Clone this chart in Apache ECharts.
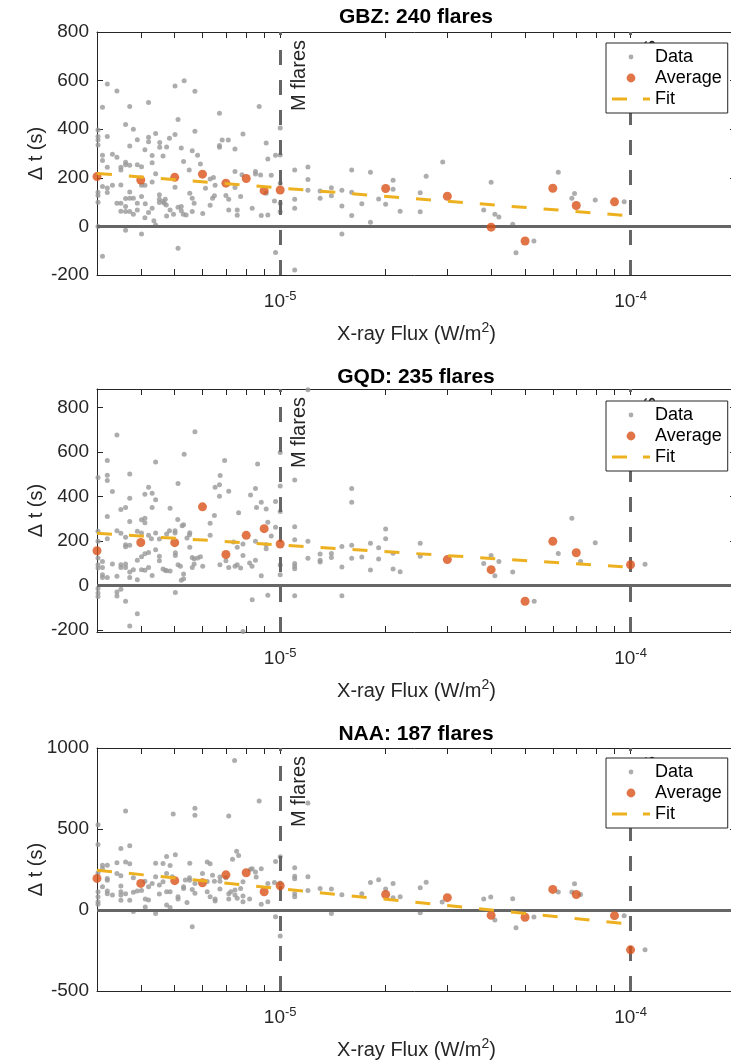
<!DOCTYPE html>
<html><head><meta charset="utf-8">
<script src="https://cdn.jsdelivr.net/npm/echarts@6/dist/echarts.min.js"></script>
<style>html,body{margin:0;padding:0;background:#fff}#c{width:731px;height:1064px}</style>
</head><body><div id="c"></div>
<script>
// ---------------- data ----------------
const panelTitles = ['GBZ: 240 flares', 'GQD: 235 flares', 'NAA: 187 flares'];
const markerNames = ['M flares', 'X flares'];
const markerFlux = [1e-5, 1e-4];
const fluxTicks = [3e-6,4e-6,5e-6,6e-6,7e-6,8e-6,9e-6,1e-5,2e-5,3e-5,4e-5,5e-5,6e-5,7e-5,8e-5,9e-5,1e-4,2e-4];
const fluxLabels = [1e-5, 1e-4];
const fluxRange = [3e-6, 2e-4];
const yRanges = [[-200, 800], [-208, 883], [-500, 1000]];
const yTicks = [[-200,0,200,400,600,800], [-200,0,200,400,600,800], [-500,0,500,1000]];

const gbzData = [
[3.21e-6,586],[3.42e-6,557],[3.11e-6,490],[5.01e-6,578],[5.32e-6,599],[5.71e-6,556],[4.21e-6,510],[3.72e-6,493],[5.11e-6,440],[8.71e-6,493],[6.71e-6,466],
[3.02e-6,397],[3.02e-6,370],[3.02e-6,356],[3.02e-6,335],[3.21e-6,370],[3.62e-6,419],[3.81e-6,400],[3.91e-6,357],[4.21e-6,367],[4.21e-6,348],[4.41e-6,382],[4.83e-6,363],[4.53e-6,345],[4.53e-6,326],[3.72e-6,331],[4.11e-6,315],[4.74e-6,327],[5.01e-6,378],[5.22e-6,323],[5.71e-6,392],[5.61e-6,311],[5.81e-6,293],[5.92e-6,257],[6.71e-6,333],[6.71e-6,326],[6.83e-6,356],[7.11e-6,356],[7.43e-6,319],[7.83e-6,380],[9.12e-6,343],[9.22e-6,277],[9.70e-6,293],[1.0e-5,405],[1.0e-5,294],
[3.11e-6,293],[3.11e-6,271],[3.32e-6,297],[3.42e-6,285],[3.21e-6,243],[3.62e-6,264],[3.62e-6,254],[3.72e-6,252],[3.51e-6,243],[3.51e-6,232],[3.91e-6,254],[4.02e-6,245],[4.31e-6,292],[4.31e-6,262],[4.41e-6,217],[4.63e-6,290],[5.30e-6,267],[5.50e-6,232],[6.31e-6,195],[6.45e-6,201],[6.52e-6,169],[7.43e-6,226],[7.78e-6,213],[8.50e-6,226],[8.50e-6,216],[8.79e-6,212],[9.43e-6,210],
[3.02e-6,141],[3.02e-6,127],[3.02e-6,99],[3.11e-6,164],[3.21e-6,158],[3.21e-6,139],[3.32e-6,169],[3.42e-6,95],[3.51e-6,170],[3.51e-6,95],[3.51e-6,62],[3.62e-6,115],[3.62e-6,82],[3.62e-6,61],[3.72e-6,142],[3.72e-6,116],[3.72e-6,61],[3.81e-6,116],[3.81e-6,50],[3.91e-6,95],[3.91e-6,68],[4.02e-6,169],[4.02e-6,123],[4.11e-6,169],[4.11e-6,36],[4.21e-6,57],[4.12e-6,93],[4.31e-6,183],[4.31e-6,75],[4.36e-6,23],[4.52e-6,130],[4.52e-6,112],[4.52e-6,98],[4.63e-6,102],[4.67e-6,95],[4.73e-6,88],[4.70e-6,112],[4.85e-6,67],[4.74e-6,43],[4.96e-6,50],[5.01e-6,161],[5.11e-6,79],[5.22e-6,82],[5.22e-6,64],[5.29e-6,50],[5.39e-6,47],[5.52e-6,136],[5.61e-6,61],[5.61e-6,116],[5.68e-6,95],[6.01e-6,53],[6.12e-6,157],[6.31e-6,87],[6.41e-6,116],[6.49e-6,126],[7.00e-6,127],[7.13e-6,112],[7.13e-6,68],[7.43e-6,160],[7.54e-6,68],[7.54e-6,46],[7.71e-6,123],[8.32e-6,75],[8.83e-6,45],[9.12e-6,136],[9.22e-6,47],[9.63e-6,105],[1.0e-5,178],[1.0e-5,95],[1.0e-5,60],
[3.62e-6,-16],[4.02e-6,-31],[3.11e-6,-123],[5.11e-6,-90],[9.70e-6,-107],[4.41e-6,6],[3.02e-6,0],
[1.10e-5,232],[1.10e-5,112],[1.10e-5,75],[1.10e-5,-179],[1.20e-5,244],[1.20e-5,193],[1.20e-5,149],[1.30e-5,146],[1.30e-5,116],[1.40e-5,159],[1.40e-5,126],[1.50e-5,149],[1.50e-5,84],[1.50e-5,-31],[1.60e-5,232],[1.60e-5,141],[1.60e-5,45],[1.71e-5,93],[1.81e-5,223],[1.81e-5,17],[1.91e-5,113],[2.00e-5,91],[2.10e-5,190],[2.10e-5,153],[2.20e-5,62],[2.51e-5,138],[2.51e-5,60],[2.61e-5,206],[2.91e-5,265],[3.81e-5,68],[4.00e-5,182],[4.10e-5,50],[4.21e-5,39],[4.61e-5,9],[4.71e-5,-108],[5.30e-5,-60],[6.22e-5,223],[6.80e-5,116],[6.92e-5,135],[7.93e-5,109],[9.59e-5,101]
];
const gbzAvg = [[3e-6,205],[4e-6,191],[5e-6,202],[6e-6,215],[7e-6,178],[8e-6,197],[9e-6,147],[1e-5,150],[2e-5,156],[3e-5,124],[4e-5,-3],[5e-5,-60],[6e-5,157],[7e-5,86],[9e-5,101]];
const gbzFit = [[3e-6,218],[9.5e-5,46]];

const gqdData = [
[3.42e-6,677],[5.71e-6,691],[3.21e-6,562],[3.02e-6,486],[3.21e-6,496],[3.21e-6,472],[3.32e-6,423],[3.72e-6,501],[4.41e-6,555],[5.32e-6,590],[5.11e-6,459],[6.94e-6,562],[6.74e-6,495],[8.62e-6,546],[6.52e-6,442],[6.71e-6,453],[6.71e-6,402],[7.13e-6,424],[8.50e-6,436],[8.23e-6,407],[8.83e-6,375],[4.21e-6,442],[4.31e-6,415],[4.11e-6,411],[4.41e-6,386],[3.72e-6,392],[3.51e-6,342],[3.62e-6,351],[3.21e-6,311],[3.72e-6,288],[4.02e-6,296],[4.11e-6,303],[4.11e-6,282],[4.31e-6,351],[4.85e-6,348],[5.10e-6,297],[5.25e-6,269],[5.30e-6,274],[5.52e-6,238],[6.31e-6,280],[6.49e-6,315],[7.61e-6,327],[8.56e-6,351],[9.12e-6,344],[9.22e-6,285],[9.70e-6,378],[9.70e-6,262],[1.0e-5,598],[1.0e-5,448],[1.0e-5,333],[1.0e-5,93],[1.0e-5,49],
[3.02e-6,244],[3.02e-6,199],[3.21e-6,211],[3.42e-6,247],[3.51e-6,235],[3.62e-6,217],[3.62e-6,184],[3.62e-6,175],[3.72e-6,181],[3.91e-6,244],[4.02e-6,236],[4.21e-6,226],[4.29e-6,211],[4.41e-6,236],[4.52e-6,209],[4.74e-6,232],[4.83e-6,247],[5.01e-6,247],[5.01e-6,236],[5.42e-6,214],[5.51e-6,229],[5.52e-6,173],[6.31e-6,226],[7.36e-6,196],[7.54e-6,173],[7.83e-6,187],[8.50e-6,199],[9.12e-6,184],[9.43e-6,223],[9.12e-6,166],
[3.02e-6,124],[3.02e-6,94],[3.02e-6,79],[3.11e-6,109],[3.11e-6,82],[3.11e-6,49],[3.11e-6,37],[3.21e-6,37],[3.32e-6,97],[3.42e-6,42],[3.51e-6,94],[3.51e-6,82],[3.62e-6,97],[3.62e-6,82],[3.72e-6,61],[3.72e-6,37],[3.81e-6,72],[3.91e-6,114],[3.91e-6,27],[4.02e-6,130],[4.02e-6,72],[4.11e-6,143],[4.11e-6,69],[4.21e-6,149],[4.21e-6,82],[4.31e-6,46],[4.41e-6,161],[4.52e-6,132],[4.52e-6,112],[4.63e-6,75],[4.70e-6,69],[4.74e-6,67],[4.85e-6,66],[5.02e-6,148],[5.02e-6,135],[5.11e-6,94],[5.19e-6,87],[5.30e-6,52],[5.22e-6,24],[5.30e-6,31],[5.61e-6,127],[5.68e-6,121],[5.81e-6,124],[5.61e-6,82],[5.68e-6,97],[5.92e-6,130],[6.01e-6,87],[6.73e-6,94],[7.00e-6,112],[7.13e-6,82],[7.43e-6,87],[7.54e-6,94],[7.71e-6,79],[7.83e-6,135],[8.18e-6,102],[8.31e-6,87],[8.50e-6,114],[8.83e-6,45],
[3.02e-6,-13],[3.02e-6,-33],[3.02e-6,-49],[3.42e-6,-28],[3.42e-6,-46],[3.51e-6,-16],[3.62e-6,-70],[3.72e-6,-181],[3.91e-6,-126],[5.02e-6,-31],[7.83e-6,-206],[8.32e-6,-63],[9.22e-6,-43],
[1.20e-5,880],[1.10e-5,474],[1.10e-5,265],[1.10e-5,206],[1.10e-5,99],[1.10e-5,87],[1.10e-5,76],[1.10e-5,-45],[1.60e-5,436],[1.60e-5,374],[1.60e-5,182],[1.60e-5,123],[1.20e-5,200],[1.20e-5,123],[1.30e-5,142],[1.30e-5,114],[1.30e-5,106],[1.40e-5,145],[1.40e-5,127],[1.50e-5,176],[1.50e-5,84],[1.50e-5,-45],[1.71e-5,129],[1.81e-5,191],[1.81e-5,70],[1.91e-5,170],[1.91e-5,120],[2.00e-5,254],[2.00e-5,211],[2.10e-5,146],[2.10e-5,75],[2.20e-5,63],[2.51e-5,191],[2.51e-5,132],[3.81e-5,99],[4.00e-5,136],[4.10e-5,45],[4.21e-5,109],[4.61e-5,61],[5.31e-5,-70],[6.22e-5,145],[6.80e-5,303],[7.20e-5,108],[7.93e-5,193],[1.10e-4,96]
];
const gqdAvg = [[3e-6,157],[4e-6,194],[5e-6,193],[6e-6,354],[7e-6,140],[8e-6,226],[9e-6,256],[1e-5,187],[3e-5,117],[4e-5,72],[5e-5,-70],[6e-5,199],[7e-5,148],[1e-4,94]];
const gqdFit = [[3e-6,235],[9.5e-5,85]];

const naaData = [
[7.41e-6,923],[8.71e-6,673],[3.62e-6,611],[5.71e-6,628],[5.71e-6,585],[4.95e-6,593],[7.13e-6,581],[3.02e-6,527],[3.02e-6,404],[3.51e-6,380],[3.72e-6,396],[7.51e-6,363],[7.61e-6,336],[4.74e-6,330],[5.02e-6,341],[4.85e-6,275],[7.31e-6,314],[3.42e-6,291],[3.62e-6,297],[3.72e-6,285],[3.21e-6,277],[3.11e-6,277],[4.41e-6,289],[4.63e-6,287],[5.52e-6,289],[6.19e-6,297],[6.31e-6,285],[9.70e-6,300],[8.32e-6,254],[8.83e-6,254],[8.50e-6,234],[1.0e-5,328],[1.0e-5,166],[1.0e-5,-160],
[3.02e-6,230],[3.11e-6,256],[3.42e-6,226],[3.51e-6,211],[3.21e-6,195],[3.21e-6,183],[3.81e-6,199],[4.11e-6,178],[4.21e-6,144],[4.31e-6,164],[4.41e-6,205],[4.52e-6,154],[4.63e-6,174],[4.74e-6,226],[4.92e-6,205],[5.30e-6,133],[5.36e-6,185],[5.51e-6,199],[5.51e-6,183],[5.71e-6,164],[6.00e-6,226],[6.19e-6,176],[6.41e-6,215],[6.49e-6,178],[6.73e-6,203],[6.73e-6,178],[7.00e-6,199],[7.83e-6,174],[8.23e-6,252],[8.54e-6,203],[9.22e-6,164],[9.63e-6,170],
[3.02e-6,113],[3.02e-6,82],[3.02e-6,51],[3.02e-6,35],[3.11e-6,144],[3.21e-6,117],[3.21e-6,100],[3.32e-6,92],[3.51e-6,148],[3.51e-6,113],[3.51e-6,92],[3.51e-6,60],[3.62e-6,100],[3.72e-6,60],[3.81e-6,109],[3.91e-6,117],[4.02e-6,121],[4.12e-6,68],[4.21e-6,62],[4.12e-6,18],[4.41e-6,-21],[4.52e-6,98],[4.74e-6,113],[4.85e-6,113],[4.74e-6,31],[4.85e-6,16],[5.11e-6,82],[5.11e-6,68],[5.30e-6,144],[5.42e-6,47],[5.61e-6,127],[5.71e-6,103],[6.19e-6,113],[6.31e-6,82],[6.52e-6,68],[6.52e-6,55],[6.73e-6,129],[7.13e-6,100],[7.13e-6,68],[7.23e-6,113],[7.43e-6,123],[7.43e-6,92],[7.54e-6,72],[7.71e-6,133],[7.83e-6,86],[7.83e-6,51],[8.18e-6,68],[8.83e-6,35],[9.22e-6,51],
[5.61e-6,-103],[3.81e-6,-10],[9.70e-6,-41],
[1.20e-5,661],[1.10e-5,261],[1.10e-5,209],[1.10e-5,193],[1.10e-5,100],[1.10e-5,82],[1.20e-5,205],[1.20e-5,121],[1.30e-5,133],[1.40e-5,129],[1.40e-5,-21],[1.50e-5,94],[1.71e-5,100],[1.81e-5,170],[1.91e-5,187],[2.00e-5,129],[2.10e-5,164],[2.10e-5,76],[2.20e-5,82],[2.51e-5,137],[2.51e-5,-17],[2.61e-5,172],[2.90e-5,49],[3.81e-5,68],[3.99e-5,80],[4.10e-5,-62],[4.61e-5,70],[4.71e-5,-109],[5.30e-5,-43],[6.22e-5,111],[6.80e-5,111],[6.92e-5,162],[7.20e-5,96],[9.59e-5,-35],[1.10e-4,-246]
];
const naaAvg = [[3e-6,195],[4e-6,164],[5e-6,181],[6e-6,168],[7e-6,217],[8e-6,230],[9e-6,113],[1e-5,150],[2e-5,96],[3e-5,76],[4e-5,-33],[5e-5,-45],[6e-5,127],[7e-5,96],[9e-5,-35],[1e-4,-246]];
const naaFit = [[3e-6,246],[9.5e-5,-82]];

const seriesNames = ['Data', 'Average', 'Fit'];
const xName = 'X-ray Flux (W/m{e|2})';
const yName = 'Δ t (s)';

// ---------------- layout / style ----------------
const FONT = '"Liberation Sans", Arial, Helvetica, sans-serif';
const AX = '#262626';
const panels = [
  {title: panelTitles[0], data: gbzData, avg: gbzAvg, fit: gbzFit},
  {title: panelTitles[1], data: gqdData, avg: gqdAvg, fit: gqdFit},
  {title: panelTitles[2], data: naaData, avg: naaAvg, fit: naaFit}
];
const gridTops = [32, 389, 748];
const titleTops = [7, 367, 724];
const legendTops = [43, 401, 758];

const ICON_DATA = 'path://M0,0M38,10M16.6,5a2.4,2.4 0 1,0 4.8,0a2.4,2.4 0 1,0 -4.8,0Z';
const ICON_AVG = 'path://M0,0M38,10M14.6,5a4.4,4.4 0 1,0 8.8,0a4.4,4.4 0 1,0 -8.8,0Z';
const ICON_FIT = 'path://M0,0M38,10M0,3.5L15,3.5L15,6.5L0,6.5ZM31,3.5L38,3.5L38,6.5L31,6.5Z';

const grid = [], xAxis = [], yAxis = [], series = [], title = [], legend = [];
const supRich = {
  b: {fontSize: 19, lineHeight: 24, color: AX, fontFamily: FONT},
  e: {fontSize: 13, lineHeight: 12, verticalAlign: 'top', color: AX, fontFamily: FONT}
};

panels.forEach((p, i) => {
  grid.push({left: 97, top: gridTops[i], width: 639, height: 243, containLabel: false, outerBoundsMode: 'none'});
  title.push({
    text: p.title, left: 416, top: titleTops[i], textAlign: 'center', padding: 0,
    textStyle: {fontSize: 21, fontWeight: 'bold', color: '#000', fontFamily: FONT}
  });
  legend.push({
    orient: 'vertical', left: 606, top: legendTops[i], z: 20, selectedMode: false,
    backgroundColor: '#fff', borderColor: AX, borderWidth: 1, borderRadius: 0,
    padding: [5, 6, 5, 6], itemWidth: 38, itemHeight: 10, itemGap: 3,
    textStyle: {fontSize: 18, color: '#000', fontFamily: FONT},
    data: [{name: seriesNames[0], icon: ICON_DATA}, {name: seriesNames[1], icon: ICON_AVG}, {name: seriesNames[2], icon: ICON_FIT}]
  });
  xAxis.push({
    type: 'log', logBase: 10, gridIndex: i, min: fluxRange[0], max: fluxRange[1], position: 'bottom',
    axisLine: {show: true, onZero: false, lineStyle: {color: AX, width: 1}},
    axisTick: {show: true, inside: true, length: 6, customValues: fluxTicks, lineStyle: {color: AX, width: 1}},
    axisLabel: {
      show: true, customValues: fluxLabels, margin: 15,
      formatter: v => '{b|10}{e|' + Math.round(Math.log10(v)) + '}', rich: supRich
    },
    splitLine: {show: false}, minorTick: {show: false},
    name: xName, nameLocation: 'middle', nameGap: 46, nameMoveOverlap: false,
    nameTextStyle: {fontSize: 20, lineHeight: 26, color: AX, fontFamily: FONT,
      rich: {e: {fontSize: 14, lineHeight: 10, verticalAlign: 'top', color: AX, fontFamily: FONT}}}
  });
  yAxis.push({
    type: 'value', gridIndex: i, min: yRanges[i][0], max: yRanges[i][1], position: 'left',
    axisLine: {show: true, onZero: false, lineStyle: {color: AX, width: 1}},
    axisTick: {show: true, inside: true, length: 6, customValues: yTicks[i], lineStyle: {color: AX, width: 1}},
    axisLabel: {show: true, customValues: yTicks[i], margin: 8, formatter: v => String(v),
      fontSize: 19, color: AX, fontFamily: FONT},
    splitLine: {show: false},
    name: yName, nameLocation: 'middle', nameRotate: 90, nameGap: 51, nameMoveOverlap: false,
    nameTextStyle: {fontSize: 20, color: AX, fontFamily: FONT}
  });
});
panels.forEach((p, i) => {
  xAxis.push({
    type: 'log', logBase: 10, gridIndex: i, min: fluxRange[0], max: fluxRange[1], position: 'top',
    axisLine: {show: true, onZero: false, lineStyle: {color: AX, width: 1}},
    axisTick: {show: true, inside: true, length: 6, customValues: fluxTicks, lineStyle: {color: AX, width: 1}},
    axisLabel: {show: false}, splitLine: {show: false}
  });
  yAxis.push({
    type: 'value', gridIndex: i, min: yRanges[i][0], max: yRanges[i][1], position: 'right',
    axisLine: {show: true, onZero: false, lineStyle: {color: AX, width: 1}},
    axisTick: {show: true, inside: true, length: 6, customValues: yTicks[i], lineStyle: {color: AX, width: 1}},
    axisLabel: {show: false}, splitLine: {show: false}
  });
});
panels.forEach((p, i) => {
  series.push({
    name: seriesNames[0], type: 'scatter', xAxisIndex: i, yAxisIndex: i, data: p.data,
    symbol: 'circle', symbolSize: 5, itemStyle: {color: '#999999'}, z: 2, clip: false,
    markLine: {
      silent: true, symbol: ['none', 'none'], z: 5, animation: false, precision: 12,
      lineStyle: {color: '#666666', width: 3, type: [15, 15]},
      label: {show: true, position: 'insideEndBottom', formatter: '{b}', distance: [8, 9],
        fontSize: 20, color: AX, fontFamily: FONT},
      emphasis: {disabled: true},
      data: markerFlux.map((f, k) => ({xAxis: f, name: markerNames[k]}))
    }
  });
  series.push({
    name: seriesNames[1], type: 'scatter', xAxisIndex: i, yAxisIndex: i, data: p.avg,
    symbol: 'circle', symbolSize: 9, itemStyle: {color: '#D95319'}, z: 6, clip: false,
    markLine: {
      silent: true, symbol: ['none', 'none'], z: 5, animation: false,
      lineStyle: {color: '#666666', width: 3, type: 'solid'},
      label: {show: false}, emphasis: {disabled: true},
      data: [{yAxis: 0}]
    }
  });
  series.push({
    name: seriesNames[2], type: 'line', xAxisIndex: i, yAxisIndex: i, data: p.fit,
    symbol: 'none', itemStyle: {color: '#EDB120'},
    lineStyle: {color: '#EDB120', width: 3, type: [15, 17]}, z: 7
  });
});

const chart = echarts.init(document.getElementById('c'), null, {renderer: 'canvas'});
chart.setOption({
  animation: false,
  backgroundColor: '#fff',
  textStyle: {fontFamily: FONT},
  title, legend, grid, xAxis, yAxis, series
});
</script></body></html>
